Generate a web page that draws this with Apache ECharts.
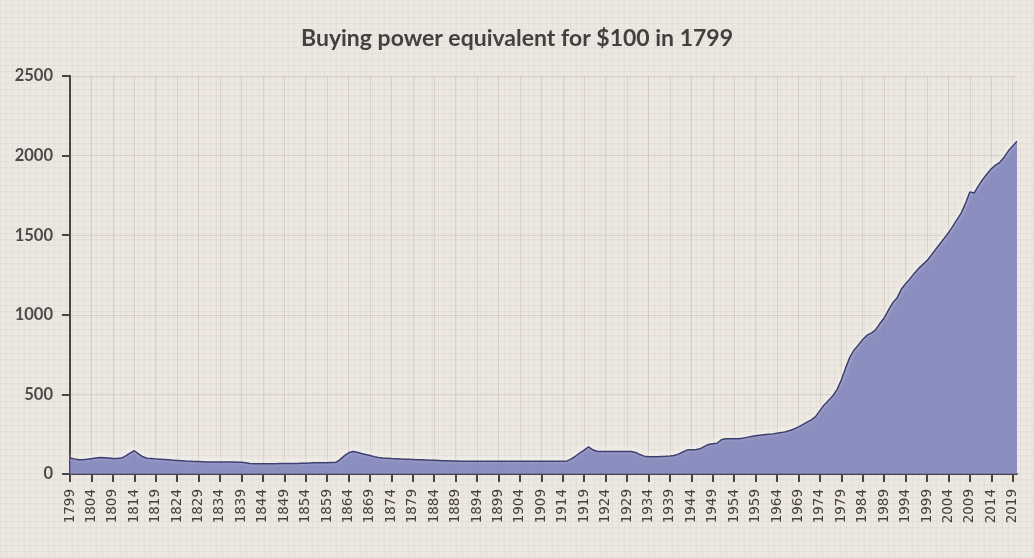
<!DOCTYPE html>
<html>
<head>
<meta charset="utf-8">
<title>Buying power</title>
<script src="https://cdn.jsdelivr.net/npm/echarts@6/dist/echarts.min.js"></script>
<style>
  html, body {
    margin: 0;
    padding: 0;
    width: 1034px;
    height: 558px;
    overflow: hidden;
    background-color: #ece7e1;
    background-image:
      repeating-linear-gradient(0deg, rgba(120, 100, 90, 0.05) 0 1px, transparent 1px 6px),
      repeating-linear-gradient(90deg, rgba(120, 100, 90, 0.05) 0 1px, transparent 1px 6px);
  }
  #chart { width: 1034px; height: 558px; }
</style>
</head>
<body>
<div id="chart"></div>
<script>
  // dollars needed to match $100 of 1799, one value per year
  var startYear = 1799;
  var values = [
    100, 95, 90, 89, 92, 96, 100, 103, 102, 100, 98, 97,           // 1799-1810
    100, 114, 131, 146, 127, 108, 99, 97, 95, 93,                  // 1811-1820
    91, 89, 87, 85, 83, 81, 80, 79, 78, 77,                        // 1821-1830
    76, 76, 75, 75, 75, 75, 75, 74, 74, 70,                        // 1831-1840
    66, 65, 65, 65, 65, 65, 65, 66, 66, 66,                        // 1841-1850
    66, 66, 67, 68, 69, 70, 71, 71, 71, 72,                        // 1851-1860
    72, 90, 114, 133, 141, 136, 129, 122, 116, 109,                // 1861-1870
    104, 101, 99, 97, 96, 95, 93, 92, 91, 90,                      // 1871-1880
    89, 88, 87, 86, 85, 84, 83, 82, 81, 80,                        // 1881-1890
    80, 80, 80, 80, 80, 80, 80, 80, 80, 80,                        // 1891-1900
    80, 80, 80, 80, 80, 80, 80, 80, 80, 80,                        // 1901-1910
    80, 80, 80, 80, 82, 95, 113, 132, 150, 170,                    // 1911-1920
    152, 141, 141, 141, 141, 141, 141, 141, 141, 141,              // 1921-1930
    135, 122, 112, 109, 109, 109, 110, 111, 113, 116,              // 1931-1940
    125, 138, 150, 152, 152, 158, 172, 185, 190, 193,              // 1941-1950
    215, 221, 222, 222, 222, 224, 230, 236, 240, 243,              // 1951-1960
    246, 249, 252, 256, 260, 266, 273, 283, 296, 310,              // 1961-1970
    326, 340, 360, 398, 434, 462, 490, 530, 590, 665,              // 1971-1980
    734, 779, 810, 845, 872, 885, 905, 945, 980, 1030,             // 1981-1990
    1075, 1105, 1160, 1195, 1225, 1260, 1290, 1315, 1340, 1375,    // 1991-2000
    1410, 1445, 1480, 1515, 1555, 1598, 1640, 1700, 1772, 1765,    // 2001-2010
    1810, 1850, 1885, 1917, 1940, 1958, 1990, 2030, 2060, 2090     // 2011-2020
  ];
  var years = values.map(function(v, i) { return String(startYear + i); });
  var yTicks = [0, 500, 1000, 1500, 2000, 2500];

  var chart = echarts.init(document.getElementById('chart'));
  chart.setOption({
    backgroundColor: 'transparent',
    animation: false,
    title: {
      text: 'Buying power equivalent for $100 in 1799',
      left: 'center',
      top: 22,
      textStyle: {
        fontFamily: 'Lato',
        fontSize: 23,
        fontWeight: 'bold',
        color: '#454040'
      }
    },
    grid: { left: 70, right: 17, top: 76, bottom: 84 },
    xAxis: {
      type: 'category',
      data: years,
      boundaryGap: false,
      axisLine: { lineStyle: { color: '#4a4545', width: 2 } },
      axisTick: {
        interval: 4,
        length: 8,
        lineStyle: { color: '#4a4545', width: 2 }
      },
      axisLabel: {
        interval: 4,
        rotate: 90,
        margin: 15,
        fontFamily: 'DejaVu Sans',
        fontSize: 13.5,
        color: '#463f3f'
      },
      splitLine: {
        show: true,
        interval: 4,
        lineStyle: { color: 'rgba(150, 135, 125, 0.22)', width: 1 }
      }
    },
    yAxis: {
      type: 'value',
      min: yTicks[0],
      max: yTicks[yTicks.length - 1],
      interval: 500,
      axisLine: { show: true, lineStyle: { color: '#4a4545', width: 2 } },
      axisTick: { show: true, length: 8, lineStyle: { color: '#4a4545', width: 2 } },
      axisLabel: {
        margin: 17,
        fontFamily: 'Lato',
        fontSize: 16.5,
        fontWeight: 'bold',
        color: '#4f4a4a',
        formatter: function(v) { return String(v); }
      },
      splitLine: { lineStyle: { color: 'rgba(150, 135, 125, 0.22)', width: 1 } }
    },
    series: [
      {
        type: 'line',
        data: values,
        symbol: 'none',
        lineStyle: {
          color: '#3c4070',
          width: 1.5,
          shadowColor: 'rgba(255, 255, 255, 0.9)',
          shadowBlur: 4,
          shadowOffsetY: -2
        },
        areaStyle: { color: '#7a7fb8', opacity: 0.85 }
      }
    ]
  });
</script>
</body>
</html>
